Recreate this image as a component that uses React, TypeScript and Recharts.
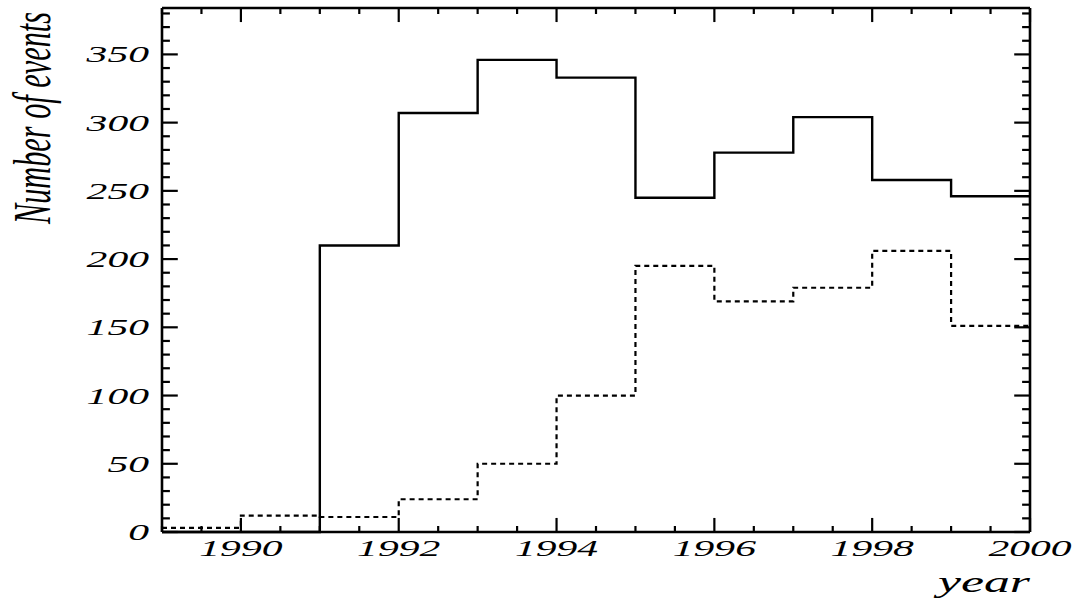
import React from 'react'
import { LineChart, Line, XAxis, YAxis, ReferenceLine } from 'recharts'

// histogram bins (lower edge of each 1-year bin)
const binStarts = [1989, 1990, 1991, 1992, 1993, 1994, 1995, 1996, 1997, 1998, 1999]
const binEnd = 2000
const solidCounts = [0, 0, 210, 307, 346, 333, 245, 278, 304, 258, 246]
const dashedCounts = [3, 12, 11, 24, 50, 100, 195, 169, 179, 206, 151]

const xMajorTicks = [1990, 1992, 1994, 1996, 1998, 2000]
const yMajorTicks = [0, 50, 100, 150, 200, 250, 300, 350]

const X_MIN = 1989
const X_MAX = 2000
const Y_MAX = 384

const xTicks: number[] = []
for (let i = 0; i <= 22; i++) xTicks.push(X_MIN + i * 0.5)
const yTicks: number[] = []
for (let v = 0; v <= 380; v += 10) yTicks.push(v)

const data = binStarts.map((x, i) => ({ x, solid: solidCounts[i], dashed: dashedCounts[i] }))
data.push({ x: binEnd, solid: solidCounts[solidCounts.length - 1], dashed: dashedCounts[dashedCounts.length - 1] })

const FONT = 'Liberation Serif'
const DIGIT_W = 20.8 // stretched digit width

// tick lengths, in axis units (plot is 868px / 11 years, 524px / 384 events)
const X_TICK_MAJOR = 10.3
const X_TICK_MINOR = 4.4
const Y_TICK_MAJOR = 0.2
const Y_TICK_MINOR = 0.1

function BottomLabel(props: any) {
  const { x, y, payload } = props
  if (!xMajorTicks.includes(payload.value)) return <g />
  const label = String(payload.value)
  return (
    <text
      x={x}
      y={y + 24}
      textAnchor="middle"
      fontFamily={FONT}
      fontStyle="italic"
      fontSize={24}
      textLength={label.length * DIGIT_W}
      lengthAdjust="spacingAndGlyphs"
    >
      {label}
    </text>
  )
}

function LeftLabel(props: any) {
  const { x, y, payload } = props
  if (!yMajorTicks.includes(payload.value)) return <g />
  const label = String(payload.value)
  return (
    <text
      x={x - 13 - label.length * DIGIT_W}
      y={y + 8}
      fontFamily={FONT}
      fontStyle="italic"
      fontSize={24}
      textLength={label.length * DIGIT_W}
      lengthAdjust="spacingAndGlyphs"
    >
      {label}
    </text>
  )
}

const frame = { stroke: '#000', strokeWidth: 2.6 }
const tickStyle = { stroke: '#000', strokeWidth: 2.2, ifOverflow: 'visible' as const }

export default function App() {
  return (
    <div style={{ position: 'absolute', left: 0, top: -10, background: '#fff' }}>
      <LineChart width={1079} height={616} data={data} margin={{ top: 8, right: 39, bottom: 0, left: 0 }}>
        <XAxis
          dataKey="x"
          type="number"
          domain={[X_MIN, X_MAX]}
          ticks={xTicks}
          interval={0}
          height={74}
          tickSize={0}
          tickMargin={0}
          tickLine={false}
          axisLine={frame}
          tick={BottomLabel}
        />
        <XAxis
          xAxisId="top"
          dataKey="x"
          type="number"
          orientation="top"
          domain={[X_MIN, X_MAX]}
          height={10}
          tickLine={false}
          axisLine={frame}
          tick={false}
        />
        <YAxis
          type="number"
          domain={[0, Y_MAX]}
          ticks={yTicks}
          interval={0}
          width={162}
          tickSize={0}
          tickMargin={0}
          tickLine={false}
          axisLine={frame}
          tick={LeftLabel}
        />
        <YAxis
          yAxisId="right"
          type="number"
          orientation="right"
          domain={[0, Y_MAX]}
          width={10}
          tickLine={false}
          axisLine={frame}
          tick={false}
        />
        {xTicks.map((t) => {
          const len = xMajorTicks.includes(t) ? X_TICK_MAJOR : X_TICK_MINOR
          return (
            <ReferenceLine key={`b${t}`} segment={[{ x: t, y: 0 }, { x: t, y: len }]} {...tickStyle} />
          )
        })}
        {xTicks.map((t) => {
          const len = xMajorTicks.includes(t) ? X_TICK_MAJOR : X_TICK_MINOR
          return (
            <ReferenceLine key={`t${t}`} segment={[{ x: t, y: Y_MAX }, { x: t, y: Y_MAX - len }]} {...tickStyle} />
          )
        })}
        {yTicks.map((t) => {
          const len = yMajorTicks.includes(t) ? Y_TICK_MAJOR : Y_TICK_MINOR
          return (
            <ReferenceLine key={`l${t}`} segment={[{ x: X_MIN, y: t }, { x: X_MIN + len, y: t }]} {...tickStyle} />
          )
        })}
        {yTicks.map((t) => {
          const len = yMajorTicks.includes(t) ? Y_TICK_MAJOR : Y_TICK_MINOR
          return (
            <ReferenceLine key={`r${t}`} segment={[{ x: X_MAX, y: t }, { x: X_MAX - len, y: t }]} {...tickStyle} />
          )
        })}
        <Line
          type="stepAfter"
          dataKey="dashed"
          stroke="#000"
          strokeWidth={2.2}
          strokeDasharray="5 4"
          dot={false}
          isAnimationActive={false}
        />
        <Line
          type="stepAfter"
          dataKey="solid"
          stroke="#000"
          strokeWidth={2.4}
          dot={false}
          isAnimationActive={false}
        />
        <text
          x={50}
          y={128}
          transform="rotate(-90, 50, 128)"
          textAnchor="middle"
          fontFamily={FONT}
          fontStyle="italic"
          fontSize={52}
          textLength={212}
          lengthAdjust="spacingAndGlyphs"
        >
          Number of events
        </text>
        <text
          x={938}
          y={602}
          fontFamily={FONT}
          fontStyle="italic"
          fontSize={30}
          textLength={92}
          lengthAdjust="spacingAndGlyphs"
        >
          year
        </text>
      </LineChart>
    </div>
  )
}
